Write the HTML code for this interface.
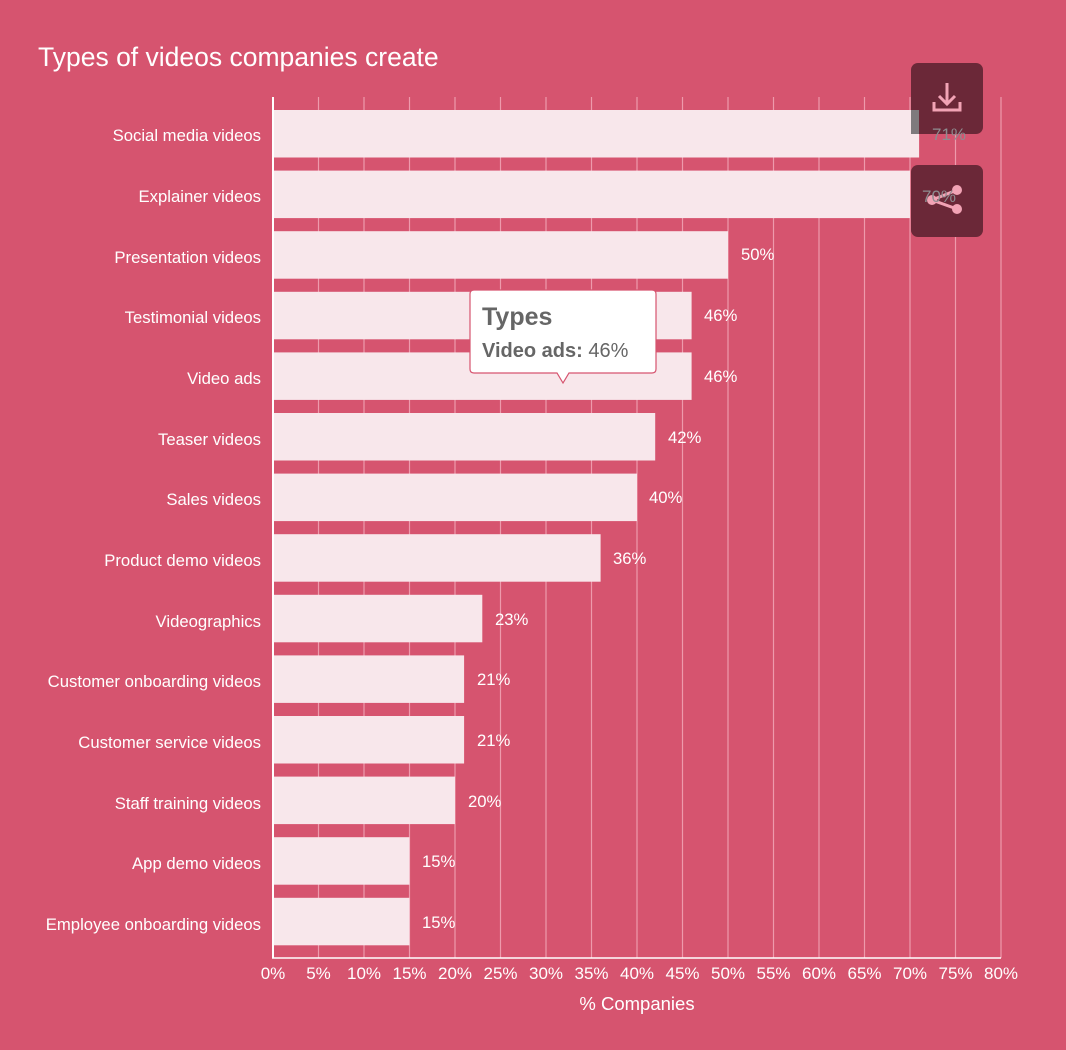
<!DOCTYPE html>
<html><head><meta charset="utf-8"><style>
html,body{margin:0;padding:0;background:#d6546f;}
svg{display:block;font-family:"Liberation Sans",Arial,sans-serif;}
</style></head><body>
<svg width="1066" height="1050" viewBox="0 0 1066 1050" xmlns="http://www.w3.org/2000/svg">
<rect width="1066" height="1050" fill="#d6546f"/>
<text x="38" y="66" font-size="26.5" fill="#fff">Types of videos companies create</text>
<g stroke="#ee9aac" stroke-width="1.2">
<line x1="318.5" y1="97" x2="318.5" y2="958"/><line x1="364" y1="97" x2="364" y2="958"/>
<line x1="409.5" y1="97" x2="409.5" y2="958"/><line x1="455" y1="97" x2="455" y2="958"/>
<line x1="500.5" y1="97" x2="500.5" y2="958"/><line x1="546" y1="97" x2="546" y2="958"/>
<line x1="591.5" y1="97" x2="591.5" y2="958"/><line x1="637" y1="97" x2="637" y2="958"/>
<line x1="682.5" y1="97" x2="682.5" y2="958"/><line x1="728" y1="97" x2="728" y2="958"/>
<line x1="773.5" y1="97" x2="773.5" y2="958"/><line x1="819" y1="97" x2="819" y2="958"/>
<line x1="864.5" y1="97" x2="864.5" y2="958"/><line x1="910" y1="97" x2="910" y2="958"/>
<line x1="955.5" y1="97" x2="955.5" y2="958"/><line x1="1001" y1="97" x2="1001" y2="958"/>
</g>
<g fill="#f8e7eb">
<rect x="273" y="110" width="646.1" height="47.5"/>
<rect x="273" y="170.6" width="637" height="47.5"/>
<rect x="273" y="231.2" width="455" height="47.5"/>
<rect x="273" y="291.8" width="418.6" height="47.5"/>
<rect x="273" y="352.4" width="418.6" height="47.5"/>
<rect x="273" y="413" width="382.2" height="47.5"/>
<rect x="273" y="473.6" width="364" height="47.5"/>
<rect x="273" y="534.2" width="327.6" height="47.5"/>
<rect x="273" y="594.8" width="209.3" height="47.5"/>
<rect x="273" y="655.4" width="191.1" height="47.5"/>
<rect x="273" y="716" width="191.1" height="47.5"/>
<rect x="273" y="776.6" width="182" height="47.5"/>
<rect x="273" y="837.2" width="136.5" height="47.5"/>
<rect x="273" y="897.8" width="136.5" height="47.5"/>
</g>
<line x1="273" y1="97" x2="273" y2="958" stroke="#fff" stroke-width="2"/>
<line x1="272" y1="958" x2="1001" y2="958" stroke="#fff" stroke-width="1.5"/>
<g font-size="16.7" fill="#fff" text-anchor="end">
<text x="261" y="141">Social media videos</text>
<text x="261" y="202">Explainer videos</text>
<text x="261" y="263">Presentation videos</text>
<text x="261" y="323">Testimonial videos</text>
<text x="261" y="384">Video ads</text>
<text x="261" y="445">Teaser videos</text>
<text x="261" y="505">Sales videos</text>
<text x="261" y="566">Product demo videos</text>
<text x="261" y="627">Videographics</text>
<text x="261" y="687">Customer onboarding videos</text>
<text x="261" y="748">Customer service videos</text>
<text x="261" y="809">Staff training videos</text>
<text x="261" y="869">App demo videos</text>
<text x="261" y="930">Employee onboarding videos</text>
</g>
<g font-size="16.7" fill="#fff">
<text x="741" y="260">50%</text>
<text x="704" y="321">46%</text>
<text x="704" y="382">46%</text>
<text x="668" y="443">42%</text>
<text x="649" y="503">40%</text>
<text x="613" y="564">36%</text>
<text x="495" y="625">23%</text>
<text x="477" y="685">21%</text>
<text x="477" y="746">21%</text>
<text x="468" y="807">20%</text>
<text x="422" y="867">15%</text>
<text x="422" y="928">15%</text>
</g>
<g font-size="17" fill="#fff" text-anchor="middle">
<text x="273" y="979">0%</text><text x="318.5" y="979">5%</text><text x="364" y="979">10%</text>
<text x="409.5" y="979">15%</text><text x="455" y="979">20%</text><text x="500.5" y="979">25%</text>
<text x="546" y="979">30%</text><text x="591.5" y="979">35%</text><text x="637" y="979">40%</text>
<text x="682.5" y="979">45%</text><text x="728" y="979">50%</text><text x="773.5" y="979">55%</text>
<text x="819" y="979">60%</text><text x="864.5" y="979">65%</text><text x="910" y="979">70%</text>
<text x="955.5" y="979">75%</text><text x="1001" y="979">80%</text>
<text x="637" y="1010" font-size="18.5">% Companies</text>
</g>
<!-- buttons -->
<rect x="911" y="63" width="72" height="71" rx="7" fill="#6b2838"/>
<rect x="911" y="110" width="8" height="24" fill="#7e7a7d"/>
<rect x="911" y="165" width="72" height="72" rx="7" fill="#6b2838"/>
<g stroke="#f2a3b5" stroke-width="3" fill="none">
<path d="M947 83 V104 M939 96 L947 104 L955 96"/>
<path d="M934 102 V110 H960 V102"/>
<path d="M957 190 L932 200 L957 209"/>
</g>
<g fill="#f2a3b5"><circle cx="957" cy="190" r="5"/><circle cx="932" cy="200" r="5"/><circle cx="957" cy="209" r="5"/></g>
<text x="932" y="140" font-size="17" fill="#8e8c90">71%</text>
<text x="922" y="202" font-size="17" fill="#8e8c90">70%</text>
<!-- tooltip -->
<path d="M474 290 H652 Q656 290 656 294 V369 Q656 373 652 373 H569 L563 383 L557 373 H474 Q470 373 470 369 V294 Q470 290 474 290 Z" fill="#fff" stroke="#d6546f" stroke-width="1.2"/>
<text x="482" y="325" font-size="25" font-weight="bold" fill="#666">Types</text>
<text x="482" y="357" font-size="20" fill="#666"><tspan font-weight="bold">Video ads:</tspan> 46%</text>
</svg>
</body></html>
